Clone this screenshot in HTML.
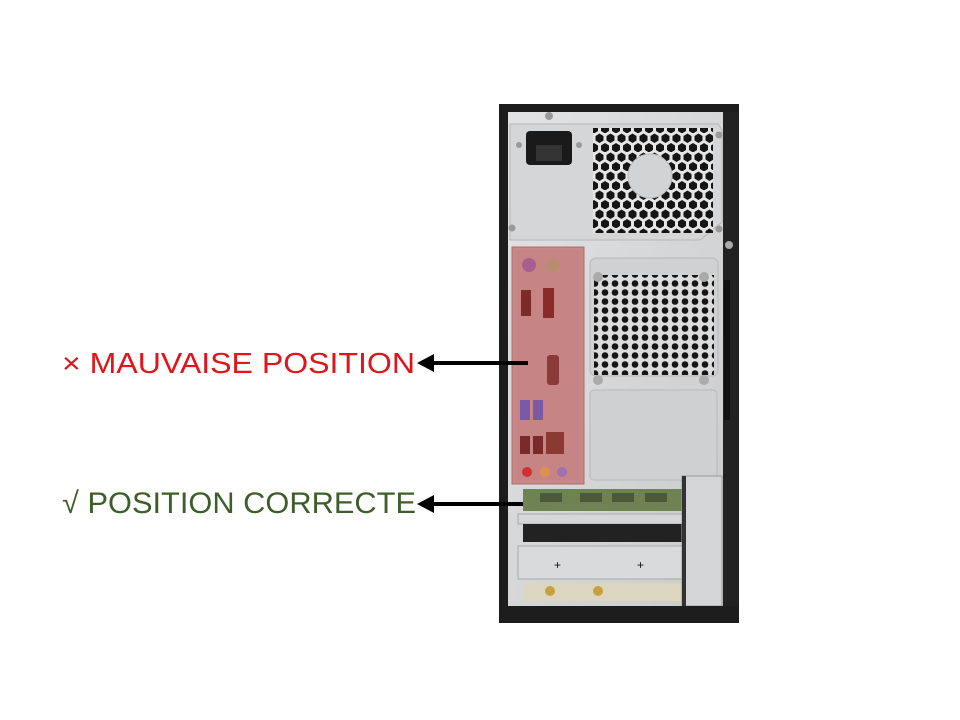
<!DOCTYPE html>
<html><head><meta charset="utf-8"><style>
html,body{margin:0;padding:0;background:#fff;width:960px;height:720px;overflow:hidden}
</style></head><body>
<svg width="960" height="720" viewBox="0 0 960 720" xmlns="http://www.w3.org/2000/svg">
<defs>
<pattern id="hex" width="11" height="19" patternUnits="userSpaceOnUse">
<rect width="11" height="19" fill="#e6e6e6"/>
<polygon points="5.5,0.5 9.5,3 9.5,7.5 5.5,10 1.5,7.5 1.5,3" fill="#151515"/>
<polygon points="0,10 4,12.5 4,17 0,19.5 -4,17 -4,12.5" fill="#151515"/>
<polygon points="11,10 15,12.5 15,17 11,19.5 7,17 7,12.5" fill="#151515"/>
</pattern>
<pattern id="dots" width="10" height="9" patternUnits="userSpaceOnUse">
<rect width="10" height="9" fill="#dcdcdc"/>
<circle cx="5" cy="4.5" r="3.3" fill="#151515"/>
</pattern>
<linearGradient id="silver" x1="0" y1="0" x2="1" y2="1">
<stop offset="0" stop-color="#e2e3e5"/><stop offset="1" stop-color="#c9cacc"/>
</linearGradient>
</defs>

<!-- tower -->
<rect x="499" y="104" width="240" height="519" fill="#1d1d1d"/>
<rect x="508" y="112" width="222" height="502" fill="url(#silver)"/>
<rect x="723" y="112" width="15" height="502" fill="#222"/>
<!-- PSU -->
<polygon points="510,124 718,124 722,130 722,222 700,240 510,240" fill="#d5d6d8" stroke="#b5b6b8"/>
<rect x="526" y="131" width="46" height="34" rx="4" fill="#1a1a1a"/>
<rect x="536" y="145" width="26" height="16" fill="#333"/>
<rect x="593" y="128" width="120" height="105" fill="url(#hex)"/>
<circle cx="650" cy="176" r="22" fill="#d2d3d5" stroke="#bbb"/>
<circle cx="549" cy="116" r="4" fill="#999"/>
<circle cx="519" cy="145" r="3" fill="#999"/><circle cx="579" cy="145" r="3" fill="#999"/>
<circle cx="719" cy="135" r="3.5" fill="#999"/><circle cx="512" cy="228" r="3.5" fill="#999"/>
<circle cx="719" cy="229" r="3.5" fill="#999"/><circle cx="729" cy="245" r="4" fill="#aaa"/>
<!-- IO panel -->
<rect x="512" y="247" width="72" height="237" fill="#c98888" stroke="#b06a6a"/>
<rect x="516" y="250" width="64" height="230" fill="#c68584"/>
<circle cx="529" cy="265" r="7" fill="#a85f8f"/><circle cx="553" cy="265" r="7" fill="#b78c70"/>
<rect x="521" y="290" width="10" height="26" fill="#7d2a2a"/>
<rect x="543" y="288" width="11" height="30" fill="#8a2a2a"/>
<rect x="547" y="355" width="12" height="30" rx="3" fill="#8b3a3a"/>
<rect x="520" y="400" width="10" height="20" fill="#7a5aa6"/><rect x="533" y="400" width="10" height="20" fill="#7a5aa6"/>
<rect x="520" y="436" width="10" height="18" fill="#7a2a2a"/><rect x="533" y="436" width="10" height="18" fill="#7a2a2a"/>
<rect x="546" y="432" width="18" height="22" fill="#8a3a30"/>
<circle cx="527" cy="472" r="5" fill="#d03030"/><circle cx="545" cy="472" r="5" fill="#e0904a"/><circle cx="562" cy="472" r="5" fill="#a070b0"/>
<!-- lower fan -->
<rect x="590" y="258" width="128" height="118" rx="6" fill="#d0d1d3" stroke="#b8b8b8"/>
<rect x="594" y="275" width="120" height="100" fill="url(#dots)"/>
<circle cx="598" cy="277" r="5" fill="#aaa"/><circle cx="704" cy="277" r="5" fill="#aaa"/>
<circle cx="598" cy="380" r="5" fill="#aaa"/><circle cx="704" cy="380" r="5" fill="#aaa"/>
<rect x="590" y="390" width="127" height="90" rx="4" fill="#cfd0d2" stroke="#b8b8b8"/>
<rect x="724" y="280" width="6" height="140" fill="#111"/>
<!-- cards -->
<rect x="523" y="489" width="160" height="22" fill="#6f8352"/>
<rect x="540" y="493" width="22" height="9" fill="#4a5a38"/><rect x="580" y="493" width="22" height="9" fill="#4a5a38"/>
<rect x="612" y="493" width="22" height="9" fill="#4a5a38"/><rect x="645" y="493" width="22" height="9" fill="#4a5a38"/>
<rect x="518" y="514" width="165" height="10" fill="#d6d7d9" stroke="#aaa"/>
<rect x="523" y="524" width="160" height="18" fill="#222"/>
<rect x="518" y="546" width="165" height="33" fill="#d9dadc" stroke="#aaa"/>
<text x="554" y="569" font-size="12" fill="#111" font-family="Liberation Sans,sans-serif">+</text>
<text x="637" y="569" font-size="12" fill="#111" font-family="Liberation Sans,sans-serif">+</text>
<rect x="523" y="583" width="160" height="18" fill="#dcd6c0"/>
<circle cx="550" cy="591" r="5" fill="#c8a040"/><circle cx="598" cy="591" r="5" fill="#c8a040"/>
<rect x="682" y="476" width="40" height="130" fill="#d4d5d7" stroke="#999"/>
<rect x="682" y="476" width="4" height="135" fill="#333"/>
<rect x="500" y="606" width="238" height="17" fill="#1d1d1d"/>

<!-- labels -->
<text x="62" y="373" font-family="Liberation Sans,sans-serif" font-size="29" fill="#e0151b" textLength="353" lengthAdjust="spacingAndGlyphs">× MAUVAISE POSITION</text>
<text x="62" y="513" font-family="Liberation Sans,sans-serif" font-size="30" fill="#3d5e2b" textLength="354" lengthAdjust="spacingAndGlyphs">√ POSITION CORRECTE</text>
<!-- arrows -->
<line x1="430" y1="363" x2="528" y2="363" stroke="#000" stroke-width="4"/>
<polygon points="417,363 434,354 434,372" fill="#000"/>
<line x1="430" y1="504" x2="523" y2="504" stroke="#000" stroke-width="4"/>
<polygon points="417,504 434,495 434,513" fill="#000"/>
</svg>
</body></html>
